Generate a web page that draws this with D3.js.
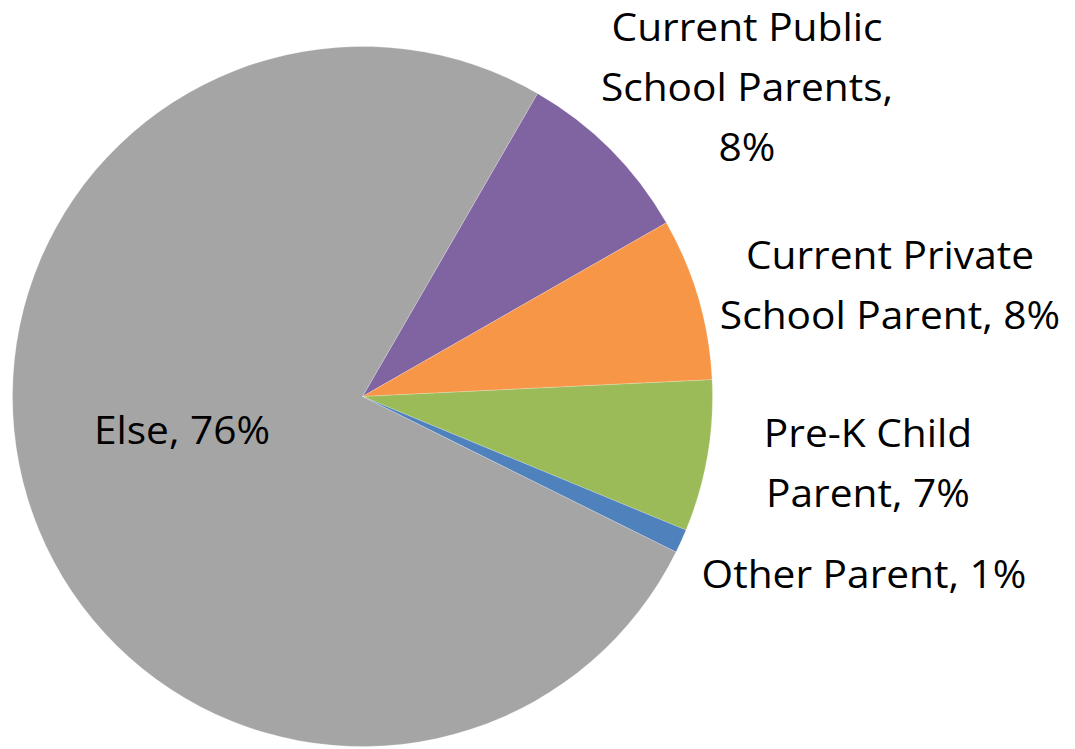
<!DOCTYPE html>
<html>
<head>
<meta charset="utf-8">
<script src="https://cdn.jsdelivr.net/npm/d3@7"></script>
<style>
  html, body { margin: 0; padding: 0; background: #ffffff; }
  svg { display: block; }
</style>
</head>
<body>
<svg id="chart" width="1075" height="749"></svg>
<script>
// Data
const categories = ["Current Public School Parents", "Current Private School Parent", "Pre-K Child Parent", "Other Parent", "Else"];
const values = [8.4, 7.5, 7.0, 1.1, 76.0];
const percentLabels = ["8%", "8%", "7%", "1%", "76%"];
const labelLines = [
  ["Current Public", "School Parents,", "8%"],
  ["Current Private", "School Parent, 8%"],
  ["Pre-K Child", "Parent, 7%"],
  ["Other Parent, 1%"],
  ["Else, 76%"]
];
const colors = ["#8064A2", "#F79646", "#9BBB59", "#4F81BD", "#A5A5A5"];

// Layout
const cx = 362.5, cy = 396.5, radius = 350;
const startDeg = 30;
const labelPos = [
  { x: 747, y: 41 },
  { x: 890, y: 269 },
  { x: 868, y: 447 },
  { x: 864, y: 588 },
  { x: 182, y: 444 }
];
const lineHeight = 60;

const svg = d3.select("#chart");
const g = svg.append("g").attr("transform", `translate(${cx},${cy})`);

const pie = d3.pie()
  .value(d => d)
  .sort(null)
  .startAngle(startDeg * Math.PI / 180)
  .endAngle(startDeg * Math.PI / 180 + 2 * Math.PI);

const arc = d3.arc().innerRadius(0).outerRadius(radius);

g.selectAll("path.slice")
  .data(pie(values))
  .join("path")
  .attr("class", "slice")
  .attr("d", arc)
  .attr("fill", (d, i) => colors[i])
  .attr("stroke", "#ffffff")
  .attr("stroke-opacity", 0.35)
  .attr("stroke-width", 0.6);

const labels = svg.append("g")
  .attr("font-family", "'Open Sans', 'Liberation Sans', sans-serif")
  .attr("font-size", 38)
  .attr("fill", "#000000")
  .attr("text-anchor", "middle");

labelLines.forEach((lines, i) => {
  const p = labelPos[i];
  const t = labels.append("text")
    .attr("transform", `translate(${p.x},${p.y}) scale(1.07,1)`);
  lines.forEach((line, j) => {
    t.append("tspan")
      .attr("x", 0)
      .attr("y", j * lineHeight)
      .text(line);
  });
});
</script>
</body>
</html>
